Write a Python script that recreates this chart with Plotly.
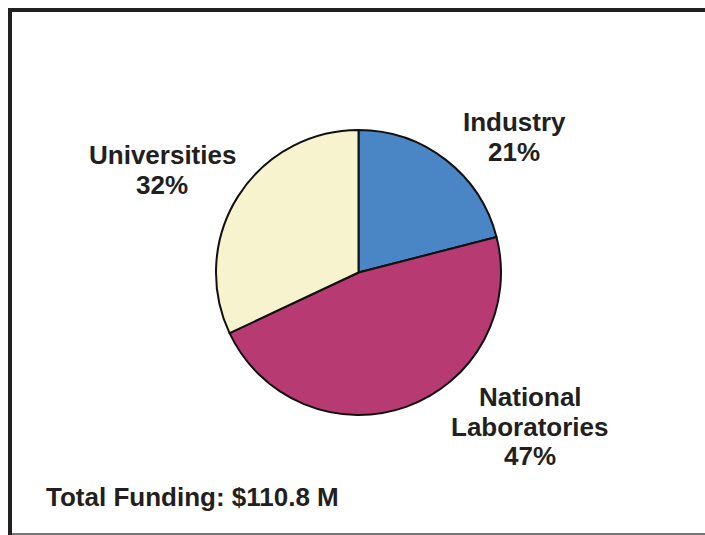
import plotly.graph_objects as go

# Funding share by performer
categories = ["Industry", "National Laboratories", "Universities"]
label_lines = [["Industry"], ["National", "Laboratories"], ["Universities"]]
shares = [21, 47, 32]
colors = ["#4a86c5", "#b83a72", "#f8f3cf"]
total_label = "Total Funding: $110.8 M"

W, H = 705, 535
cx, cy, r = 358.5, 272.5, 142.5  # pie centre and radius in pixels


def px(x):
    return x / W


def py(y):
    return 1 - y / H


fig = go.Figure(
    go.Pie(
        labels=categories,
        values=shares,
        sort=False,
        direction="clockwise",
        rotation=0,
        marker=dict(colors=colors, line=dict(color="#111111", width=2)),
        textinfo="none",
        hoverinfo="label+percent",
        showlegend=False,
        domain=dict(x=[px(cx - r), px(cx + r)], y=[py(cy + r), py(cy - r)]),
    )
)

# Slice labels: name lines followed by the share, one annotation per line
label_x = [514, 530, 162]
label_top = [122, 397, 155]
line_step = 29.5
font = dict(family="Liberation Sans, Arial, sans-serif", size=26, color="#231f20")
for lines, val, lx, ly in zip(label_lines, shares, label_x, label_top):
    for i, txt in enumerate(lines + [f"{val}%"]):
        fig.add_annotation(
            x=px(lx), y=py(ly + i * line_step), xref="paper", yref="paper",
            text=f"<b>{txt}</b>", showarrow=False,
            xanchor="center", yanchor="middle", font=font,
        )

fig.add_annotation(
    x=px(44), y=py(497), xref="paper", yref="paper",
    text=f"<b>{total_label}</b>", showarrow=False,
    xanchor="left", yanchor="middle", font=font,
)

# Frame lines
fig.add_shape(type="line", xref="paper", yref="paper",
              x0=px(8), x1=1, y0=py(10), y1=py(10),
              line=dict(color="#231f20", width=4))
fig.add_shape(type="line", xref="paper", yref="paper",
              x0=px(10), x1=px(10), y0=py(8), y1=py(535),
              line=dict(color="#231f20", width=4))
fig.add_shape(type="line", xref="paper", yref="paper",
              x0=px(12), x1=1, y0=py(534), y1=py(534),
              line=dict(color="#777777", width=2))

fig.update_layout(
    width=W, height=H,
    margin=dict(l=0, r=0, t=0, b=0),
    paper_bgcolor="white", plot_bgcolor="white",
)

fig.write_html("out.html")
